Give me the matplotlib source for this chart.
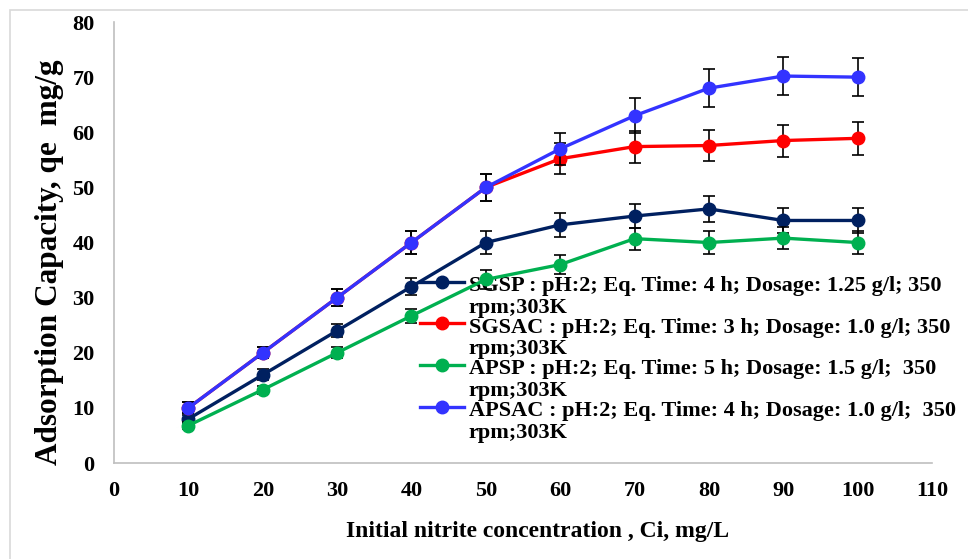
import numpy as np
import matplotlib
matplotlib.use("Agg")
import matplotlib.pyplot as plt
from matplotlib.legend_handler import HandlerLine2D
from matplotlib.patches import Rectangle

# data
conc = [10, 20, 30, 40, 50, 60, 70, 80, 90, 100]

sgsp = [8.0, 16.0, 24.0, 32.0, 40.0, 43.2, 44.8, 46.1, 44.0, 44.0]
sgsp_err = [0.8, 1.0, 1.2, 1.6, 2.0, 2.2, 2.2, 2.3, 2.2, 2.2]

sgsac = [10.0, 20.0, 30.0, 40.0, 50.0, 55.2, 57.4, 57.6, 58.5, 58.9]
sgsac_err = [1.0, 1.0, 1.5, 2.0, 2.5, 2.8, 2.9, 2.9, 2.9, 3.0]

apsp = [6.8, 13.3, 20.0, 26.7, 33.3, 36.0, 40.7, 40.0, 40.8, 40.0]
apsp_err = [0.7, 0.7, 1.0, 1.3, 1.7, 1.8, 2.0, 2.0, 2.0, 2.0]

apsac = [10.0, 20.0, 30.0, 40.0, 50.0, 57.0, 63.0, 68.0, 70.2, 70.0]
apsac_err = [1.0, 1.0, 1.5, 2.0, 2.5, 2.9, 3.2, 3.4, 3.5, 3.5]

labels = [
    "SGSP : pH:2; Eq. Time: 4 h; Dosage: 1.25 g/l; 350\nrpm;303K",
    "SGSAC : pH:2; Eq. Time: 3 h; Dosage: 1.0 g/l; 350\nrpm;303K",
    "APSP : pH:2; Eq. Time: 5 h; Dosage: 1.5 g/l;  350\nrpm;303K",
    "APSAC : pH:2; Eq. Time: 4 h; Dosage: 1.0 g/l;  350\nrpm;303K",
]
colors = ["#002060", "#FF0000", "#00B050", "#3333FF"]


# legend handle moved up so it sits next to the first line of the label
class FirstLineHandler(HandlerLine2D):
    def __init__(self, shift, **kw):
        super().__init__(**kw)
        self.shift = shift

    def create_artists(self, legend, orig_handle, xdescent, ydescent,
                       width, height, fontsize, trans):
        artists = super().create_artists(legend, orig_handle, xdescent, ydescent,
                                         width, height, fontsize, trans)
        for a in artists:
            a.set_ydata(np.asarray(a.get_ydata()) + self.shift)
        return artists


plt.rcParams["font.family"] = ["Liberation Serif", "DejaVu Serif"]
plt.rcParams["font.weight"] = "bold"

fig = plt.figure(figsize=(9.68, 5.59), dpi=100)
ax = fig.add_axes([0.1178, 0.1717, 0.8450, 0.7889])

series = [(sgsp, sgsp_err), (sgsac, sgsac_err), (apsp, apsp_err), (apsac, apsac_err)]
handles = []
for i, ((vals, errs), col, lab) in enumerate(zip(series, colors, labels)):
    ax.errorbar(conc, vals, yerr=errs, fmt="none", ecolor="black",
                elinewidth=1.2, capsize=4.5, capthick=1.2, zorder=2 + 2 * i)
    line, = ax.plot(conc, vals, color=col, lw=2.4, marker="o", ms=9,
                    label=lab, zorder=3 + 2 * i)
    handles.append(line)

ax.set_xlim(0, 110)
ax.set_ylim(0, 80)
ax.set_xticks(range(0, 111, 10))
ax.set_yticks(range(0, 81, 10))
ax.tick_params(length=0, labelsize=16)
ax.tick_params(axis="x", pad=13)
ax.tick_params(axis="y", pad=14)
for s in ["top", "right"]:
    ax.spines[s].set_visible(False)
for s in ["left", "bottom"]:
    ax.spines[s].set_color("#BFBFBF")
    ax.spines[s].set_linewidth(1.2)

fig.text(538 / 968, 1 - 531 / 559, "Initial nitrite concentration , Ci, mg/L",
         ha="center", va="center", fontsize=17, fontweight="bold")
fig.text(50 / 968, 1 - 262 / 559, "Adsorption Capacity, qe  mg/g",
         rotation=90, ha="center", va="center", fontsize=22.5, fontweight="bold")

leg = ax.legend(handles=handles, loc="upper left",
                bbox_to_anchor=(420 / 968, 1 - 276 / 559),
                bbox_transform=fig.transFigure, frameon=False,
                fontsize=16, handlelength=2.0, handletextpad=0.2,
                labelspacing=0.0, borderpad=0, borderaxespad=0,
                handler_map={h: FirstLineHandler(10.6) for h in handles})
for t in leg.get_texts():
    t.set_linespacing(1.11)

# light frame around the chart area
fig.patches.append(Rectangle((10 / 968, -0.05), 1.2, 1 - 10 / 559 + 0.05,
                             transform=fig.transFigure, fill=False,
                             edgecolor="#D9D9D9", lw=1.2))

fig.savefig("out.png", dpi=100)
